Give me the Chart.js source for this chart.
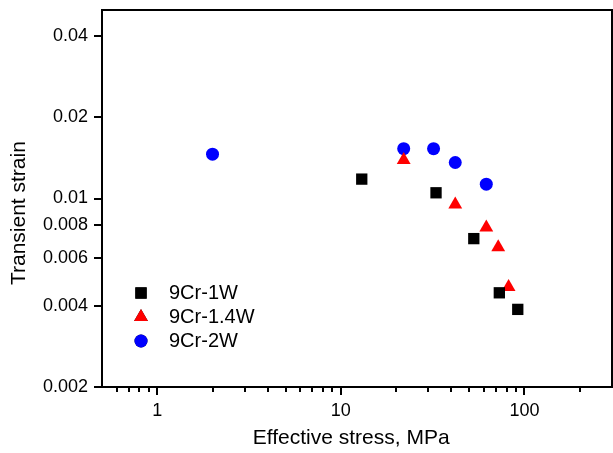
<!DOCTYPE html>
<html lang="en">
<head>
  <meta charset="UTF-8" />
  <title>Transient strain vs effective stress</title>
  <style>
    body { margin: 0; background: #fff; }
    canvas { display: block; }
  </style>
</head>
<body>
<canvas id="chart" width="613" height="453"></canvas>

<script src="https://cdn.jsdelivr.net/npm/chart.js"></script>
<script>
  // values
  const stress1W = [13, 33, 53, 73, 92];
  const strain1W = [0.0118, 0.0105, 0.0071, 0.00447, 0.00388];

  const stress14W = [22, 42, 62, 72, 82];
  const strain14W = [0.0139, 0.0095, 0.0078, 0.0066, 0.0047];

  const stress2W = [2, 22, 32, 42, 62];
  const strain2W = [0.0146, 0.0153, 0.0153, 0.0136, 0.0113];

  const xMajorTicks = [1, 10, 100];
  const xMinorTicks = [0.6, 0.7, 0.8, 0.9, 2, 3, 4, 5, 6, 7, 8, 9, 20, 30, 40, 50, 60, 70, 80, 90, 200];
  const yTicks = [0.002, 0.004, 0.006, 0.008, 0.01, 0.02, 0.04];

  const toPoints = (xs, ys) => xs.map((x, i) => ({ x: x, y: ys[i] }));

  const FONT = "'Liberation Sans', Arial, sans-serif";

  // box round the plot, tick marks and legend inside the plot
  const framePlugin = {
    id: 'frame',
    afterDraw(chart) {
      const ctx = chart.ctx;
      const a = chart.chartArea;
      const xs = chart.scales.x, ys = chart.scales.y;
      ctx.save();
      ctx.strokeStyle = '#000';
      ctx.lineWidth = 2;
      ctx.strokeRect(a.left, a.top, a.right - a.left, a.bottom - a.top);

      ctx.beginPath();
      xMajorTicks.forEach(v => {
        const px = Math.round(xs.getPixelForValue(v));
        ctx.moveTo(px, a.bottom); ctx.lineTo(px, a.bottom + 8);
      });
      xMinorTicks.forEach(v => {
        const px = Math.round(xs.getPixelForValue(v));
        ctx.moveTo(px, a.bottom); ctx.lineTo(px, a.bottom + 5);
      });
      yTicks.forEach(v => {
        const py = Math.round(ys.getPixelForValue(v));
        ctx.moveTo(a.left, py); ctx.lineTo(a.left - 8, py);
      });
      ctx.stroke();

      // legend
      const lx = a.left + 39, ly = a.top + 283, step = 24;
      ctx.font = '20px ' + FONT;
      ctx.textBaseline = 'middle';
      ctx.fillStyle = '#000';
      chart.data.datasets.forEach((ds, i) => {
        const y = ly + i * step;
        Chart.helpers.drawPoint(ctx, {
          pointStyle: ds.pointStyle,
          radius: ds.pointRadius,
          borderWidth: 0
        }, lx, y);
        ctx.fillStyle = ds.backgroundColor;
        ctx.fill();
        ctx.fillStyle = '#000';
        ctx.fillText(ds.label, lx + 28, y);
      });
      ctx.restore();
    }
  };

  new Chart(document.getElementById('chart'), {
    type: 'scatter',
    data: {
      datasets: [
        {
          label: '9Cr-1W',
          data: toPoints(stress1W, strain1W),
          pointStyle: 'rect',
          pointRadius: 8,
          backgroundColor: '#000000',
          borderWidth: 0
        },
        {
          label: '9Cr-1.4W',
          data: toPoints(stress14W, strain14W),
          pointStyle: 'triangle',
          pointRadius: 8,
          backgroundColor: '#ff0000',
          borderWidth: 0
        },
        {
          label: '9Cr-2W',
          data: toPoints(stress2W, strain2W),
          pointStyle: 'circle',
          pointRadius: 6.5,
          backgroundColor: '#0000ff',
          borderWidth: 0
        }
      ]
    },
    options: {
      responsive: false,
      animation: false,
      layout: { autoPadding: false, padding: { top: 10, right: 1, left: 0, bottom: 0 } },
      plugins: {
        legend: { display: false },
        tooltip: { enabled: false }
      },
      scales: {
        x: {
          type: 'logarithmic',
          min: 0.5,
          max: 300,
          grid: { display: false, drawTicks: false },
          border: { display: false },
          afterBuildTicks: scale => { scale.ticks = xMajorTicks.map(v => ({ value: v })); },
          afterFit: scale => {
            scale.height = 66;
            scale.paddingLeft = 0;
            scale.paddingRight = 0;
          },
          ticks: {
            autoSkip: false,
            maxRotation: 0,
            padding: 13,
            color: '#000',
            font: { family: FONT, size: 18 },
            callback: v => String(v)
          },
          title: {
            display: true,
            text: 'Effective stress, MPa  ',
            color: '#000',
            font: { family: FONT, size: 21 },
            padding: { top: 0, bottom: 2 }
          }
        },
        y: {
          type: 'logarithmic',
          min: 0.002,
          max: 0.05,
          grid: { display: false, drawTicks: false },
          border: { display: false },
          afterBuildTicks: scale => { scale.ticks = yTicks.map(v => ({ value: v })); },
          afterFit: scale => {
            scale.width = 102;
            scale.paddingTop = 0;
            scale.paddingBottom = 0;
          },
          ticks: {
            autoSkip: false,
            padding: 14,
            color: '#000',
            font: { family: FONT, size: 18 },
            callback: v => String(v)
          },
          title: {
            display: true,
            text: 'Transient strain     ',
            color: '#000',
            font: { family: FONT, size: 21 },
            padding: { top: 7, bottom: 0 }
          }
        }
      }
    },
    plugins: [framePlugin]
  });
</script>
</body>
</html>
